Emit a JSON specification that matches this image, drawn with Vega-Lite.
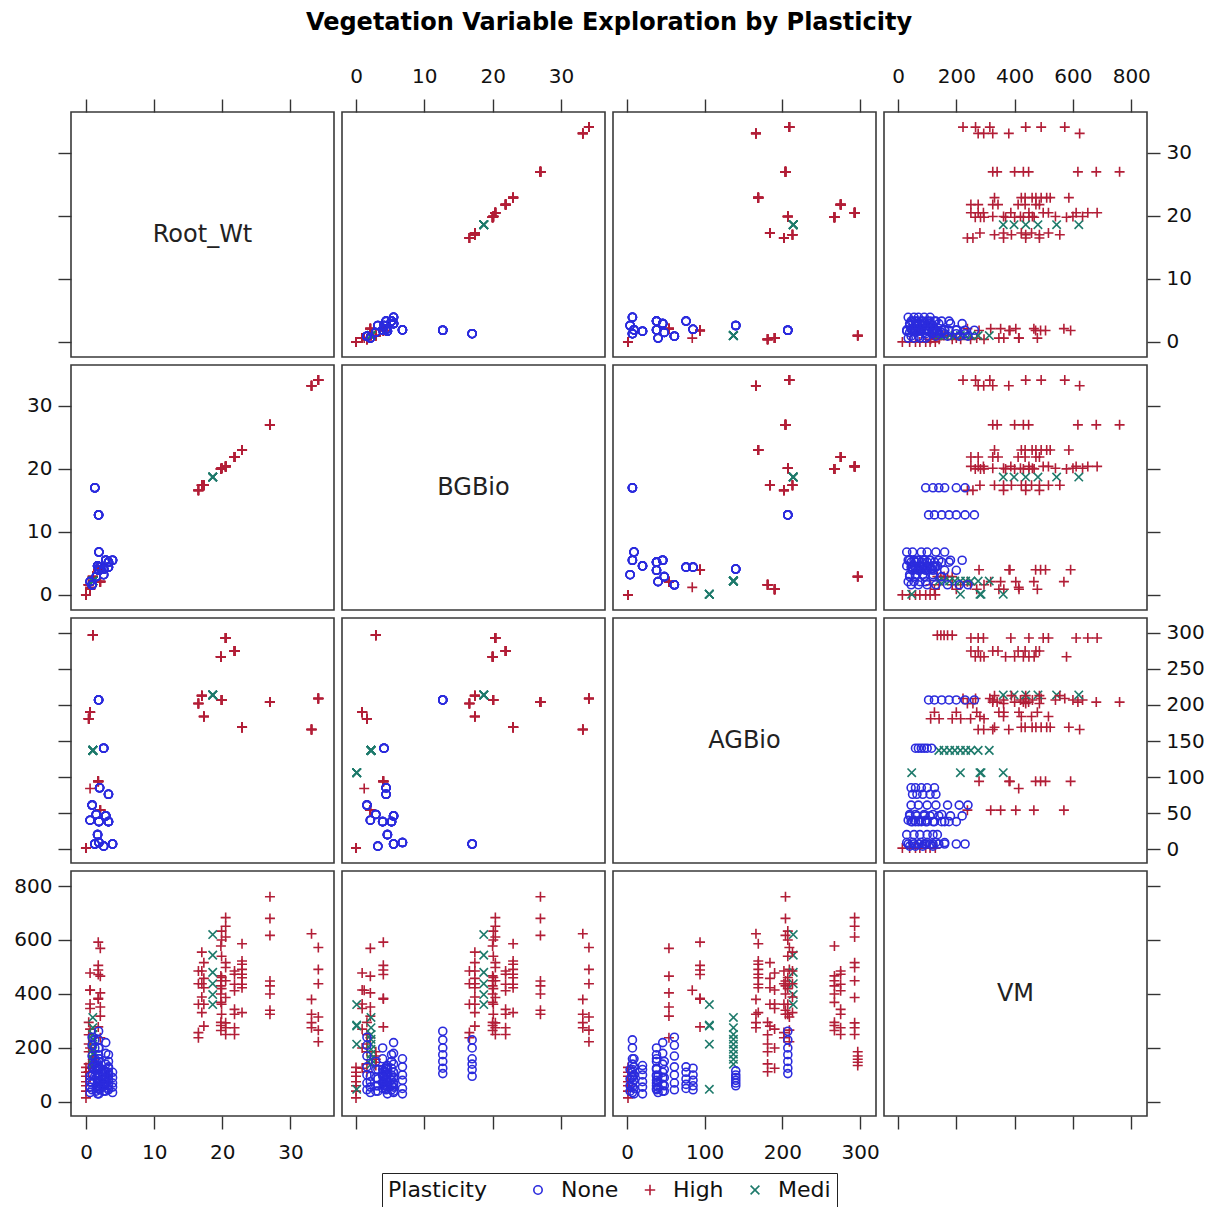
{
"$schema": "https://vega.github.io/schema/vega-lite/v6.json",
"padding": {"left": 13, "top": 11, "right": 10, "bottom": 2},
"title": {"text": "Vegetation Variable Exploration by Plasticity", "anchor": "middle", "font": "DejaVu Sans", "fontSize": 24, "fontWeight": "bold", "color": "#000", "offset": 30},
"config": {
  "view": {"stroke": "#3a3a3a", "strokeWidth": 1.6},
  "axis": {"domain": false, "grid": false, "tickSize": 13, "tickColor": "#333", "tickWidth": 1.4, "labelFont": "DejaVu Sans", "labelFontSize": 20, "labelColor": "#111", "labelFlush": false, "labelOverlap": false, "title": null},
  "axisX": {"labelPadding": 13},
  "axisY": {"labelPadding": 6},
  "range": {"category": ["#2B2BDD", "#B21E37", "#1E7A6B"], "symbol": ["circle", "M-1.25,0L1.25,0M0,-1.25L0,1.25", "M-1.05,-1.05L1.05,1.05M-1.05,1.05L1.05,-1.05"]},
  "legend": {"orient": "bottom", "direction": "horizontal", "titleOrient": "left", "layout": {"bottom": {"anchor": "middle"}}, "strokeColor": "#222", "padding": 6, "titleFont": "DejaVu Sans", "titleFontSize": 22, "titleFontWeight": "normal", "titleColor": "#111", "labelFont": "DejaVu Sans", "labelFontSize": 22, "labelColor": "#111", "symbolSize": 70, "symbolStrokeWidth": 1.6, "columnPadding": 20, "labelOffset": 12, "titlePadding": 40, "offset": 10}
},
"data": {"values": [
{"Root_Wt":34.1,"BGBio":34.1,"AGBio":209,"VM":572,"Plasticity":"High"},
{"Root_Wt":34.1,"BGBio":34.1,"AGBio":209,"VM":491,"Plasticity":"High"},
{"Root_Wt":34.1,"BGBio":34.1,"AGBio":209,"VM":438,"Plasticity":"High"},
{"Root_Wt":34.1,"BGBio":34.1,"AGBio":209,"VM":315,"Plasticity":"High"},
{"Root_Wt":34.1,"BGBio":34.1,"AGBio":209,"VM":266,"Plasticity":"High"},
{"Root_Wt":34.1,"BGBio":34.1,"AGBio":209,"VM":223,"Plasticity":"High"},
{"Root_Wt":33.1,"BGBio":33.2,"AGBio":166,"VM":623,"Plasticity":"High"},
{"Root_Wt":33.1,"BGBio":33.2,"AGBio":166,"VM":380,"Plasticity":"High"},
{"Root_Wt":33.1,"BGBio":33.2,"AGBio":166,"VM":325,"Plasticity":"High"},
{"Root_Wt":33.1,"BGBio":33.2,"AGBio":166,"VM":294,"Plasticity":"High"},
{"Root_Wt":33.1,"BGBio":33.2,"AGBio":166,"VM":275,"Plasticity":"High"},
{"Root_Wt":27.0,"BGBio":27.0,"AGBio":204,"VM":760,"Plasticity":"High"},
{"Root_Wt":27.0,"BGBio":27.0,"AGBio":204,"VM":680,"Plasticity":"High"},
{"Root_Wt":27.0,"BGBio":27.0,"AGBio":204,"VM":617,"Plasticity":"High"},
{"Root_Wt":27.0,"BGBio":27.0,"AGBio":204,"VM":448,"Plasticity":"High"},
{"Root_Wt":27.0,"BGBio":27.0,"AGBio":204,"VM":430,"Plasticity":"High"},
{"Root_Wt":27.0,"BGBio":27.0,"AGBio":204,"VM":400,"Plasticity":"High"},
{"Root_Wt":27.0,"BGBio":27.0,"AGBio":204,"VM":340,"Plasticity":"High"},
{"Root_Wt":27.0,"BGBio":27.0,"AGBio":204,"VM":325,"Plasticity":"High"},
{"Root_Wt":22.9,"BGBio":23.0,"AGBio":169,"VM":586,"Plasticity":"High"},
{"Root_Wt":22.9,"BGBio":23.0,"AGBio":169,"VM":522,"Plasticity":"High"},
{"Root_Wt":22.9,"BGBio":23.0,"AGBio":169,"VM":510,"Plasticity":"High"},
{"Root_Wt":22.9,"BGBio":23.0,"AGBio":169,"VM":491,"Plasticity":"High"},
{"Root_Wt":22.9,"BGBio":23.0,"AGBio":169,"VM":473,"Plasticity":"High"},
{"Root_Wt":22.9,"BGBio":23.0,"AGBio":169,"VM":460,"Plasticity":"High"},
{"Root_Wt":22.9,"BGBio":23.0,"AGBio":169,"VM":436,"Plasticity":"High"},
{"Root_Wt":22.9,"BGBio":23.0,"AGBio":169,"VM":423,"Plasticity":"High"},
{"Root_Wt":22.9,"BGBio":23.0,"AGBio":169,"VM":331,"Plasticity":"High"},
{"Root_Wt":21.8,"BGBio":21.9,"AGBio":275,"VM":485,"Plasticity":"High"},
{"Root_Wt":21.8,"BGBio":21.9,"AGBio":275,"VM":473,"Plasticity":"High"},
{"Root_Wt":21.8,"BGBio":21.9,"AGBio":275,"VM":436,"Plasticity":"High"},
{"Root_Wt":21.8,"BGBio":21.9,"AGBio":275,"VM":412,"Plasticity":"High"},
{"Root_Wt":21.8,"BGBio":21.9,"AGBio":275,"VM":343,"Plasticity":"High"},
{"Root_Wt":21.8,"BGBio":21.9,"AGBio":275,"VM":325,"Plasticity":"High"},
{"Root_Wt":21.8,"BGBio":21.9,"AGBio":275,"VM":275,"Plasticity":"High"},
{"Root_Wt":21.8,"BGBio":21.9,"AGBio":275,"VM":250,"Plasticity":"High"},
{"Root_Wt":20.5,"BGBio":20.4,"AGBio":293,"VM":683,"Plasticity":"High"},
{"Root_Wt":20.5,"BGBio":20.4,"AGBio":293,"VM":651,"Plasticity":"High"},
{"Root_Wt":20.5,"BGBio":20.4,"AGBio":293,"VM":611,"Plasticity":"High"},
{"Root_Wt":20.5,"BGBio":20.4,"AGBio":293,"VM":516,"Plasticity":"High"},
{"Root_Wt":20.5,"BGBio":20.4,"AGBio":293,"VM":498,"Plasticity":"High"},
{"Root_Wt":20.5,"BGBio":20.4,"AGBio":293,"VM":449,"Plasticity":"High"},
{"Root_Wt":20.5,"BGBio":20.4,"AGBio":293,"VM":387,"Plasticity":"High"},
{"Root_Wt":20.5,"BGBio":20.4,"AGBio":293,"VM":293,"Plasticity":"High"},
{"Root_Wt":20.5,"BGBio":20.4,"AGBio":293,"VM":275,"Plasticity":"High"},
{"Root_Wt":20.5,"BGBio":20.4,"AGBio":293,"VM":250,"Plasticity":"High"},
{"Root_Wt":19.8,"BGBio":20.0,"AGBio":267,"VM":578,"Plasticity":"High"},
{"Root_Wt":19.8,"BGBio":20.0,"AGBio":267,"VM":467,"Plasticity":"High"},
{"Root_Wt":19.8,"BGBio":20.0,"AGBio":267,"VM":449,"Plasticity":"High"},
{"Root_Wt":19.8,"BGBio":20.0,"AGBio":267,"VM":430,"Plasticity":"High"},
{"Root_Wt":19.8,"BGBio":20.0,"AGBio":267,"VM":400,"Plasticity":"High"},
{"Root_Wt":19.8,"BGBio":20.0,"AGBio":267,"VM":369,"Plasticity":"High"},
{"Root_Wt":19.8,"BGBio":20.0,"AGBio":267,"VM":295,"Plasticity":"High"},
{"Root_Wt":19.8,"BGBio":20.0,"AGBio":267,"VM":283,"Plasticity":"High"},
{"Root_Wt":19.8,"BGBio":20.0,"AGBio":267,"VM":265,"Plasticity":"High"},
{"Root_Wt":19.9,"BGBio":20.1,"AGBio":207,"VM":633,"Plasticity":"High"},
{"Root_Wt":19.9,"BGBio":20.1,"AGBio":207,"VM":600,"Plasticity":"High"},
{"Root_Wt":19.9,"BGBio":20.1,"AGBio":207,"VM":540,"Plasticity":"High"},
{"Root_Wt":19.9,"BGBio":20.1,"AGBio":207,"VM":461,"Plasticity":"High"},
{"Root_Wt":19.9,"BGBio":20.1,"AGBio":207,"VM":420,"Plasticity":"High"},
{"Root_Wt":19.9,"BGBio":20.1,"AGBio":207,"VM":362,"Plasticity":"High"},
{"Root_Wt":19.9,"BGBio":20.1,"AGBio":207,"VM":325,"Plasticity":"High"},
{"Root_Wt":18.6,"BGBio":18.7,"AGBio":214,"VM":361,"Plasticity":"Medi"},
{"Root_Wt":18.6,"BGBio":18.7,"AGBio":214,"VM":398,"Plasticity":"Medi"},
{"Root_Wt":18.6,"BGBio":18.7,"AGBio":214,"VM":438,"Plasticity":"Medi"},
{"Root_Wt":18.6,"BGBio":18.7,"AGBio":214,"VM":480,"Plasticity":"Medi"},
{"Root_Wt":18.6,"BGBio":18.7,"AGBio":214,"VM":544,"Plasticity":"Medi"},
{"Root_Wt":18.6,"BGBio":18.7,"AGBio":214,"VM":620,"Plasticity":"Medi"},
{"Root_Wt":17.0,"BGBio":17.4,"AGBio":213,"VM":555,"Plasticity":"High"},
{"Root_Wt":17.0,"BGBio":17.4,"AGBio":213,"VM":485,"Plasticity":"High"},
{"Root_Wt":17.0,"BGBio":17.4,"AGBio":213,"VM":438,"Plasticity":"High"},
{"Root_Wt":17.0,"BGBio":17.4,"AGBio":213,"VM":389,"Plasticity":"High"},
{"Root_Wt":17.0,"BGBio":17.4,"AGBio":213,"VM":331,"Plasticity":"High"},
{"Root_Wt":17.3,"BGBio":17.4,"AGBio":184,"VM":516,"Plasticity":"High"},
{"Root_Wt":17.3,"BGBio":17.4,"AGBio":184,"VM":458,"Plasticity":"High"},
{"Root_Wt":17.3,"BGBio":17.4,"AGBio":184,"VM":423,"Plasticity":"High"},
{"Root_Wt":17.3,"BGBio":17.4,"AGBio":184,"VM":362,"Plasticity":"High"},
{"Root_Wt":17.3,"BGBio":17.4,"AGBio":184,"VM":281,"Plasticity":"High"},
{"Root_Wt":16.5,"BGBio":16.6,"AGBio":202,"VM":485,"Plasticity":"High"},
{"Root_Wt":16.5,"BGBio":16.6,"AGBio":202,"VM":438,"Plasticity":"High"},
{"Root_Wt":16.5,"BGBio":16.6,"AGBio":202,"VM":362,"Plasticity":"High"},
{"Root_Wt":16.5,"BGBio":16.6,"AGBio":202,"VM":257,"Plasticity":"High"},
{"Root_Wt":16.5,"BGBio":16.6,"AGBio":202,"VM":238,"Plasticity":"High"},
{"Root_Wt":0.0,"BGBio":0.0,"AGBio":1.3,"VM":15,"Plasticity":"High"},
{"Root_Wt":0.0,"BGBio":0.0,"AGBio":1.3,"VM":40,"Plasticity":"High"},
{"Root_Wt":0.0,"BGBio":0.0,"AGBio":1.3,"VM":60,"Plasticity":"High"},
{"Root_Wt":0.0,"BGBio":0.0,"AGBio":1.3,"VM":75,"Plasticity":"High"},
{"Root_Wt":0.0,"BGBio":0.0,"AGBio":1.3,"VM":95,"Plasticity":"High"},
{"Root_Wt":0.0,"BGBio":0.0,"AGBio":1.3,"VM":110,"Plasticity":"High"},
{"Root_Wt":0.0,"BGBio":0.0,"AGBio":1.3,"VM":128,"Plasticity":"High"},
{"Root_Wt":2.1,"BGBio":2.1,"AGBio":54,"VM":238,"Plasticity":"High"},
{"Root_Wt":2.1,"BGBio":2.1,"AGBio":54,"VM":318,"Plasticity":"High"},
{"Root_Wt":2.1,"BGBio":2.1,"AGBio":54,"VM":352,"Plasticity":"High"},
{"Root_Wt":2.1,"BGBio":2.1,"AGBio":54,"VM":404,"Plasticity":"High"},
{"Root_Wt":2.1,"BGBio":2.1,"AGBio":54,"VM":466,"Plasticity":"High"},
{"Root_Wt":2.1,"BGBio":2.1,"AGBio":54,"VM":569,"Plasticity":"High"},
{"Root_Wt":0.6,"BGBio":1.2,"AGBio":84,"VM":414,"Plasticity":"High"},
{"Root_Wt":1.8,"BGBio":4.0,"AGBio":94,"VM":278,"Plasticity":"High"},
{"Root_Wt":1.8,"BGBio":4.0,"AGBio":94,"VM":381,"Plasticity":"High"},
{"Root_Wt":1.8,"BGBio":4.0,"AGBio":94,"VM":384,"Plasticity":"High"},
{"Root_Wt":1.8,"BGBio":4.0,"AGBio":94,"VM":472,"Plasticity":"High"},
{"Root_Wt":1.8,"BGBio":4.0,"AGBio":94,"VM":489,"Plasticity":"High"},
{"Root_Wt":1.8,"BGBio":4.0,"AGBio":94,"VM":506,"Plasticity":"High"},
{"Root_Wt":1.8,"BGBio":4.0,"AGBio":94,"VM":592,"Plasticity":"High"},
{"Root_Wt":0.4,"BGBio":1.6,"AGBio":181,"VM":112,"Plasticity":"High"},
{"Root_Wt":0.4,"BGBio":1.6,"AGBio":181,"VM":141,"Plasticity":"High"},
{"Root_Wt":0.4,"BGBio":1.6,"AGBio":181,"VM":186,"Plasticity":"High"},
{"Root_Wt":0.4,"BGBio":1.6,"AGBio":181,"VM":215,"Plasticity":"High"},
{"Root_Wt":0.4,"BGBio":1.6,"AGBio":181,"VM":249,"Plasticity":"High"},
{"Root_Wt":0.4,"BGBio":1.6,"AGBio":181,"VM":295,"Plasticity":"High"},
{"Root_Wt":0.6,"BGBio":0.9,"AGBio":190,"VM":125,"Plasticity":"High"},
{"Root_Wt":0.6,"BGBio":0.9,"AGBio":190,"VM":200,"Plasticity":"High"},
{"Root_Wt":0.6,"BGBio":0.9,"AGBio":190,"VM":270,"Plasticity":"High"},
{"Root_Wt":0.6,"BGBio":0.9,"AGBio":190,"VM":346,"Plasticity":"High"},
{"Root_Wt":0.6,"BGBio":0.9,"AGBio":190,"VM":363,"Plasticity":"High"},
{"Root_Wt":0.6,"BGBio":0.9,"AGBio":190,"VM":415,"Plasticity":"High"},
{"Root_Wt":0.6,"BGBio":0.9,"AGBio":190,"VM":478,"Plasticity":"High"},
{"Root_Wt":1.0,"BGBio":2.9,"AGBio":297,"VM":135,"Plasticity":"High"},
{"Root_Wt":1.0,"BGBio":2.9,"AGBio":297,"VM":147,"Plasticity":"High"},
{"Root_Wt":1.0,"BGBio":2.9,"AGBio":297,"VM":158,"Plasticity":"High"},
{"Root_Wt":1.0,"BGBio":2.9,"AGBio":297,"VM":170,"Plasticity":"High"},
{"Root_Wt":1.0,"BGBio":2.9,"AGBio":297,"VM":186,"Plasticity":"High"},
{"Root_Wt":1.0,"BGBio":2.2,"AGBio":137,"VM":140,"Plasticity":"Medi"},
{"Root_Wt":1.0,"BGBio":2.2,"AGBio":137,"VM":158,"Plasticity":"Medi"},
{"Root_Wt":1.0,"BGBio":2.2,"AGBio":137,"VM":177,"Plasticity":"Medi"},
{"Root_Wt":1.0,"BGBio":2.2,"AGBio":137,"VM":195,"Plasticity":"Medi"},
{"Root_Wt":1.0,"BGBio":2.2,"AGBio":137,"VM":214,"Plasticity":"Medi"},
{"Root_Wt":1.0,"BGBio":2.2,"AGBio":137,"VM":232,"Plasticity":"Medi"},
{"Root_Wt":1.0,"BGBio":2.2,"AGBio":137,"VM":250,"Plasticity":"Medi"},
{"Root_Wt":1.0,"BGBio":2.2,"AGBio":137,"VM":275,"Plasticity":"Medi"},
{"Root_Wt":1.0,"BGBio":2.2,"AGBio":137,"VM":313,"Plasticity":"Medi"},
{"Root_Wt":null,"BGBio":0.1,"AGBio":106,"VM":47,"Plasticity":"Medi"},
{"Root_Wt":null,"BGBio":0.1,"AGBio":106,"VM":214,"Plasticity":"Medi"},
{"Root_Wt":null,"BGBio":0.1,"AGBio":106,"VM":281,"Plasticity":"Medi"},
{"Root_Wt":null,"BGBio":0.1,"AGBio":106,"VM":285,"Plasticity":"Medi"},
{"Root_Wt":null,"BGBio":0.1,"AGBio":106,"VM":361,"Plasticity":"Medi"},
{"Root_Wt":1.3,"BGBio":17.0,"AGBio":7,"VM":95,"Plasticity":"None"},
{"Root_Wt":1.3,"BGBio":17.0,"AGBio":7,"VM":120,"Plasticity":"None"},
{"Root_Wt":1.3,"BGBio":17.0,"AGBio":7,"VM":140,"Plasticity":"None"},
{"Root_Wt":1.3,"BGBio":17.0,"AGBio":7,"VM":160,"Plasticity":"None"},
{"Root_Wt":1.3,"BGBio":17.0,"AGBio":7,"VM":200,"Plasticity":"None"},
{"Root_Wt":1.3,"BGBio":17.0,"AGBio":7,"VM":230,"Plasticity":"None"},
{"Root_Wt":1.85,"BGBio":12.7,"AGBio":207,"VM":105,"Plasticity":"None"},
{"Root_Wt":1.85,"BGBio":12.7,"AGBio":207,"VM":125,"Plasticity":"None"},
{"Root_Wt":1.85,"BGBio":12.7,"AGBio":207,"VM":150,"Plasticity":"None"},
{"Root_Wt":1.85,"BGBio":12.7,"AGBio":207,"VM":175,"Plasticity":"None"},
{"Root_Wt":1.85,"BGBio":12.7,"AGBio":207,"VM":200,"Plasticity":"None"},
{"Root_Wt":1.85,"BGBio":12.7,"AGBio":207,"VM":230,"Plasticity":"None"},
{"Root_Wt":1.85,"BGBio":12.7,"AGBio":207,"VM":262,"Plasticity":"None"},
{"Root_Wt":3.9,"BGBio":5.5,"AGBio":7,"VM":35,"Plasticity":"None"},
{"Root_Wt":3.9,"BGBio":5.5,"AGBio":7,"VM":55,"Plasticity":"None"},
{"Root_Wt":3.9,"BGBio":5.5,"AGBio":7,"VM":70,"Plasticity":"None"},
{"Root_Wt":3.9,"BGBio":5.5,"AGBio":7,"VM":90,"Plasticity":"None"},
{"Root_Wt":3.9,"BGBio":5.5,"AGBio":7,"VM":110,"Plasticity":"None"},
{"Root_Wt":1.9,"BGBio":6.8,"AGBio":9,"VM":30,"Plasticity":"None"},
{"Root_Wt":1.9,"BGBio":6.8,"AGBio":9,"VM":50,"Plasticity":"None"},
{"Root_Wt":1.9,"BGBio":6.8,"AGBio":9,"VM":80,"Plasticity":"None"},
{"Root_Wt":1.9,"BGBio":6.8,"AGBio":9,"VM":100,"Plasticity":"None"},
{"Root_Wt":1.9,"BGBio":6.8,"AGBio":9,"VM":130,"Plasticity":"None"},
{"Root_Wt":1.9,"BGBio":6.8,"AGBio":9,"VM":160,"Plasticity":"None"},
{"Root_Wt":2.6,"BGBio":3.2,"AGBio":4,"VM":40,"Plasticity":"None"},
{"Root_Wt":2.6,"BGBio":3.2,"AGBio":4,"VM":60,"Plasticity":"None"},
{"Root_Wt":2.6,"BGBio":3.2,"AGBio":4,"VM":85,"Plasticity":"None"},
{"Root_Wt":2.6,"BGBio":3.2,"AGBio":4,"VM":120,"Plasticity":"None"},
{"Root_Wt":1.7,"BGBio":4.6,"AGBio":20,"VM":30,"Plasticity":"None"},
{"Root_Wt":1.7,"BGBio":4.6,"AGBio":20,"VM":55,"Plasticity":"None"},
{"Root_Wt":1.7,"BGBio":4.6,"AGBio":20,"VM":75,"Plasticity":"None"},
{"Root_Wt":1.7,"BGBio":4.6,"AGBio":20,"VM":100,"Plasticity":"None"},
{"Root_Wt":1.7,"BGBio":4.6,"AGBio":20,"VM":120,"Plasticity":"None"},
{"Root_Wt":1.7,"BGBio":4.6,"AGBio":20,"VM":135,"Plasticity":"None"},
{"Root_Wt":3.3,"BGBio":5.2,"AGBio":38,"VM":45,"Plasticity":"None"},
{"Root_Wt":3.3,"BGBio":5.2,"AGBio":38,"VM":60,"Plasticity":"None"},
{"Root_Wt":3.3,"BGBio":5.2,"AGBio":38,"VM":80,"Plasticity":"None"},
{"Root_Wt":3.3,"BGBio":5.2,"AGBio":38,"VM":100,"Plasticity":"None"},
{"Root_Wt":3.3,"BGBio":5.2,"AGBio":38,"VM":125,"Plasticity":"None"},
{"Root_Wt":3.3,"BGBio":5.2,"AGBio":38,"VM":150,"Plasticity":"None"},
{"Root_Wt":3.3,"BGBio":5.2,"AGBio":38,"VM":175,"Plasticity":"None"},
{"Root_Wt":1.9,"BGBio":3.9,"AGBio":38,"VM":50,"Plasticity":"None"},
{"Root_Wt":1.9,"BGBio":3.9,"AGBio":38,"VM":70,"Plasticity":"None"},
{"Root_Wt":1.9,"BGBio":3.9,"AGBio":38,"VM":95,"Plasticity":"None"},
{"Root_Wt":1.9,"BGBio":3.9,"AGBio":38,"VM":120,"Plasticity":"None"},
{"Root_Wt":1.9,"BGBio":3.9,"AGBio":38,"VM":160,"Plasticity":"None"},
{"Root_Wt":1.9,"BGBio":3.9,"AGBio":38,"VM":200,"Plasticity":"None"},
{"Root_Wt":2.9,"BGBio":5.5,"AGBio":46,"VM":40,"Plasticity":"None"},
{"Root_Wt":2.9,"BGBio":5.5,"AGBio":46,"VM":65,"Plasticity":"None"},
{"Root_Wt":2.9,"BGBio":5.5,"AGBio":46,"VM":90,"Plasticity":"None"},
{"Root_Wt":2.9,"BGBio":5.5,"AGBio":46,"VM":110,"Plasticity":"None"},
{"Root_Wt":2.9,"BGBio":5.5,"AGBio":46,"VM":140,"Plasticity":"None"},
{"Root_Wt":2.9,"BGBio":5.5,"AGBio":46,"VM":180,"Plasticity":"None"},
{"Root_Wt":2.9,"BGBio":5.5,"AGBio":46,"VM":220,"Plasticity":"None"},
{"Root_Wt":0.6,"BGBio":2.1,"AGBio":40,"VM":35,"Plasticity":"None"},
{"Root_Wt":0.6,"BGBio":2.1,"AGBio":40,"VM":55,"Plasticity":"None"},
{"Root_Wt":0.6,"BGBio":2.1,"AGBio":40,"VM":75,"Plasticity":"None"},
{"Root_Wt":0.6,"BGBio":2.1,"AGBio":40,"VM":95,"Plasticity":"None"},
{"Root_Wt":0.9,"BGBio":1.6,"AGBio":61,"VM":45,"Plasticity":"None"},
{"Root_Wt":0.9,"BGBio":1.6,"AGBio":61,"VM":70,"Plasticity":"None"},
{"Root_Wt":0.9,"BGBio":1.6,"AGBio":61,"VM":100,"Plasticity":"None"},
{"Root_Wt":0.9,"BGBio":1.6,"AGBio":61,"VM":130,"Plasticity":"None"},
{"Root_Wt":0.9,"BGBio":1.6,"AGBio":61,"VM":170,"Plasticity":"None"},
{"Root_Wt":0.9,"BGBio":1.6,"AGBio":61,"VM":210,"Plasticity":"None"},
{"Root_Wt":0.9,"BGBio":1.6,"AGBio":61,"VM":240,"Plasticity":"None"},
{"Root_Wt":3.3,"BGBio":4.4,"AGBio":76,"VM":50,"Plasticity":"None"},
{"Root_Wt":3.3,"BGBio":4.4,"AGBio":76,"VM":65,"Plasticity":"None"},
{"Root_Wt":3.3,"BGBio":4.4,"AGBio":76,"VM":85,"Plasticity":"None"},
{"Root_Wt":3.3,"BGBio":4.4,"AGBio":76,"VM":110,"Plasticity":"None"},
{"Root_Wt":3.3,"BGBio":4.4,"AGBio":76,"VM":130,"Plasticity":"None"},
{"Root_Wt":2.0,"BGBio":4.4,"AGBio":85,"VM":45,"Plasticity":"None"},
{"Root_Wt":2.0,"BGBio":4.4,"AGBio":85,"VM":60,"Plasticity":"None"},
{"Root_Wt":2.0,"BGBio":4.4,"AGBio":85,"VM":80,"Plasticity":"None"},
{"Root_Wt":2.0,"BGBio":4.4,"AGBio":85,"VM":100,"Plasticity":"None"},
{"Root_Wt":2.0,"BGBio":4.4,"AGBio":85,"VM":125,"Plasticity":"None"},
{"Root_Wt":2.6,"BGBio":4.1,"AGBio":140,"VM":60,"Plasticity":"None"},
{"Root_Wt":2.6,"BGBio":4.1,"AGBio":140,"VM":70,"Plasticity":"None"},
{"Root_Wt":2.6,"BGBio":4.1,"AGBio":140,"VM":80,"Plasticity":"None"},
{"Root_Wt":2.6,"BGBio":4.1,"AGBio":140,"VM":90,"Plasticity":"None"},
{"Root_Wt":2.6,"BGBio":4.1,"AGBio":140,"VM":100,"Plasticity":"None"},
{"Root_Wt":2.6,"BGBio":4.1,"AGBio":140,"VM":115,"Plasticity":"None"},
{"Root_Wt":1.5,"BGBio":2.9,"AGBio":48,"VM":40,"Plasticity":"None"},
{"Root_Wt":1.5,"BGBio":2.9,"AGBio":48,"VM":60,"Plasticity":"None"},
{"Root_Wt":1.5,"BGBio":2.9,"AGBio":48,"VM":90,"Plasticity":"None"},
{"Root_Wt":1.5,"BGBio":2.9,"AGBio":48,"VM":120,"Plasticity":"None"},
{"Root_Wt":1.5,"BGBio":2.9,"AGBio":48,"VM":150,"Plasticity":"None"}
]},
"spacing": 6,
"resolve": {"scale": {"x": "independent", "y": "independent"}},
"vconcat": [
{"spacing": 8, "bounds": "flush", "resolve": {"scale": {"x": "independent", "y": "independent"}}, "hconcat": [
 {"width": 263, "height": 245, "data": {"values": [{"label": "Root_Wt"}]}, "mark": {"type": "text", "font": "DejaVu Sans", "fontSize": 24, "color": "#222"},
  "encoding": {"x": {"datum": 17.1, "type": "quantitative", "scale": {"domain": [-2.2, 36.4], "nice": false, "zero": false}, "axis": {"orient": "top", "values": [0,10,20,30], "labels": false}},
   "y": {"datum": 17.05, "type": "quantitative", "scale": {"domain": [-2.4, 36.5], "nice": false, "zero": false}, "axis": {"orient": "left", "values": [0,10,20,30], "labels": false}},
   "text": {"field": "label"}}},
 {"width": 263, "height": 245, "mark": {"type": "point", "filled": false, "size": 64, "strokeWidth": 1.6, "opacity": 1},
  "encoding": {"x": {"field": "BGBio", "type": "quantitative", "scale": {"domain": [-2.05, 36.45], "nice": false, "zero": false}, "axis": {"orient": "top", "values": [0,10,20,30]}},
   "y": {"field": "Root_Wt", "type": "quantitative", "scale": {"domain": [-2.4, 36.5], "nice": false, "zero": false}, "axis": null},
   "color": {"field": "Plasticity", "type": "nominal", "scale": {"domain": ["None","High","Medi"]}, "title": "Plasticity"},
   "shape": {"field": "Plasticity", "type": "nominal", "scale": {"domain": ["None","High","Medi"]}, "title": "Plasticity"}}},
 {"width": 263, "height": 245, "mark": {"type": "point", "filled": false, "size": 64, "strokeWidth": 1.6, "opacity": 1},
  "encoding": {"x": {"field": "AGBio", "type": "quantitative", "scale": {"domain": [-18, 320.5], "nice": false, "zero": false}, "axis": {"orient": "top", "values": [0,100,200,300], "labels": false}},
   "y": {"field": "Root_Wt", "type": "quantitative", "scale": {"domain": [-2.4, 36.5], "nice": false, "zero": false}, "axis": null},
   "color": {"field": "Plasticity", "type": "nominal", "scale": {"domain": ["None","High","Medi"]}, "title": "Plasticity"},
   "shape": {"field": "Plasticity", "type": "nominal", "scale": {"domain": ["None","High","Medi"]}, "title": "Plasticity"}}},
 {"width": 263, "height": 245, "mark": {"type": "point", "filled": false, "size": 64, "strokeWidth": 1.6, "opacity": 1},
  "encoding": {"x": {"field": "VM", "type": "quantitative", "scale": {"domain": [-48, 854], "nice": false, "zero": false}, "axis": {"orient": "top", "values": [0,200,400,600,800]}},
   "y": {"field": "Root_Wt", "type": "quantitative", "scale": {"domain": [-2.4, 36.5], "nice": false, "zero": false}, "axis": {"orient": "right", "values": [0,10,20,30]}},
   "color": {"field": "Plasticity", "type": "nominal", "scale": {"domain": ["None","High","Medi"]}, "title": "Plasticity"},
   "shape": {"field": "Plasticity", "type": "nominal", "scale": {"domain": ["None","High","Medi"]}, "title": "Plasticity"}}}
]},
{"spacing": 8, "bounds": "flush", "resolve": {"scale": {"x": "independent", "y": "independent"}}, "hconcat": [
 {"width": 263, "height": 245, "mark": {"type": "point", "filled": false, "size": 64, "strokeWidth": 1.6, "opacity": 1},
  "encoding": {"x": {"field": "Root_Wt", "type": "quantitative", "scale": {"domain": [-2.2, 36.4], "nice": false, "zero": false}, "axis": null},
   "y": {"field": "BGBio", "type": "quantitative", "scale": {"domain": [-2.4, 36.5], "nice": false, "zero": false}, "axis": {"orient": "left", "values": [0,10,20,30]}},
   "color": {"field": "Plasticity", "type": "nominal", "scale": {"domain": ["None","High","Medi"]}, "title": "Plasticity"},
   "shape": {"field": "Plasticity", "type": "nominal", "scale": {"domain": ["None","High","Medi"]}, "title": "Plasticity"}}},
 {"width": 263, "height": 245, "data": {"values": [{"label": "BGBio"}]}, "mark": {"type": "text", "font": "DejaVu Sans", "fontSize": 24, "color": "#222"},
  "encoding": {"x": {"datum": 17.2, "type": "quantitative", "scale": {"domain": [-2.05, 36.45], "nice": false, "zero": false}, "axis": null},
   "y": {"datum": 17.05, "type": "quantitative", "scale": {"domain": [-2.4, 36.5], "nice": false, "zero": false}, "axis": null},
   "text": {"field": "label"}}},
 {"width": 263, "height": 245, "mark": {"type": "point", "filled": false, "size": 64, "strokeWidth": 1.6, "opacity": 1},
  "encoding": {"x": {"field": "AGBio", "type": "quantitative", "scale": {"domain": [-18, 320.5], "nice": false, "zero": false}, "axis": null},
   "y": {"field": "BGBio", "type": "quantitative", "scale": {"domain": [-2.4, 36.5], "nice": false, "zero": false}, "axis": null},
   "color": {"field": "Plasticity", "type": "nominal", "scale": {"domain": ["None","High","Medi"]}, "title": "Plasticity"},
   "shape": {"field": "Plasticity", "type": "nominal", "scale": {"domain": ["None","High","Medi"]}, "title": "Plasticity"}}},
 {"width": 263, "height": 245, "mark": {"type": "point", "filled": false, "size": 64, "strokeWidth": 1.6, "opacity": 1},
  "encoding": {"x": {"field": "VM", "type": "quantitative", "scale": {"domain": [-48, 854], "nice": false, "zero": false}, "axis": null},
   "y": {"field": "BGBio", "type": "quantitative", "scale": {"domain": [-2.4, 36.5], "nice": false, "zero": false}, "axis": {"orient": "right", "values": [0,10,20,30], "labels": false}},
   "color": {"field": "Plasticity", "type": "nominal", "scale": {"domain": ["None","High","Medi"]}, "title": "Plasticity"},
   "shape": {"field": "Plasticity", "type": "nominal", "scale": {"domain": ["None","High","Medi"]}, "title": "Plasticity"}}}
]},
{"spacing": 8, "bounds": "flush", "resolve": {"scale": {"x": "independent", "y": "independent"}}, "hconcat": [
 {"width": 263, "height": 245, "mark": {"type": "point", "filled": false, "size": 64, "strokeWidth": 1.6, "opacity": 1},
  "encoding": {"x": {"field": "Root_Wt", "type": "quantitative", "scale": {"domain": [-2.2, 36.4], "nice": false, "zero": false}, "axis": null},
   "y": {"field": "AGBio", "type": "quantitative", "scale": {"domain": [-19.4, 320.8], "nice": false, "zero": false}, "axis": {"orient": "left", "values": [0,50,100,150,200,250,300], "labels": false}},
   "color": {"field": "Plasticity", "type": "nominal", "scale": {"domain": ["None","High","Medi"]}, "title": "Plasticity"},
   "shape": {"field": "Plasticity", "type": "nominal", "scale": {"domain": ["None","High","Medi"]}, "title": "Plasticity"}}},
 {"width": 263, "height": 245, "mark": {"type": "point", "filled": false, "size": 64, "strokeWidth": 1.6, "opacity": 1},
  "encoding": {"x": {"field": "BGBio", "type": "quantitative", "scale": {"domain": [-2.05, 36.45], "nice": false, "zero": false}, "axis": null},
   "y": {"field": "AGBio", "type": "quantitative", "scale": {"domain": [-19.4, 320.8], "nice": false, "zero": false}, "axis": null},
   "color": {"field": "Plasticity", "type": "nominal", "scale": {"domain": ["None","High","Medi"]}, "title": "Plasticity"},
   "shape": {"field": "Plasticity", "type": "nominal", "scale": {"domain": ["None","High","Medi"]}, "title": "Plasticity"}}},
 {"width": 263, "height": 245, "data": {"values": [{"label": "AGBio"}]}, "mark": {"type": "text", "font": "DejaVu Sans", "fontSize": 24, "color": "#222"},
  "encoding": {"x": {"datum": 151.25, "type": "quantitative", "scale": {"domain": [-18, 320.5], "nice": false, "zero": false}, "axis": null},
   "y": {"datum": 150.7, "type": "quantitative", "scale": {"domain": [-19.4, 320.8], "nice": false, "zero": false}, "axis": null},
   "text": {"field": "label"}}},
 {"width": 263, "height": 245, "mark": {"type": "point", "filled": false, "size": 64, "strokeWidth": 1.6, "opacity": 1},
  "encoding": {"x": {"field": "VM", "type": "quantitative", "scale": {"domain": [-48, 854], "nice": false, "zero": false}, "axis": null},
   "y": {"field": "AGBio", "type": "quantitative", "scale": {"domain": [-19.4, 320.8], "nice": false, "zero": false}, "axis": {"orient": "right", "values": [0,50,100,150,200,250,300]}},
   "color": {"field": "Plasticity", "type": "nominal", "scale": {"domain": ["None","High","Medi"]}, "title": "Plasticity"},
   "shape": {"field": "Plasticity", "type": "nominal", "scale": {"domain": ["None","High","Medi"]}, "title": "Plasticity"}}}
]},
{"spacing": 8, "bounds": "flush", "resolve": {"scale": {"x": "independent", "y": "independent"}}, "hconcat": [
 {"width": 263, "height": 245, "mark": {"type": "point", "filled": false, "size": 64, "strokeWidth": 1.6, "opacity": 1},
  "encoding": {"x": {"field": "Root_Wt", "type": "quantitative", "scale": {"domain": [-2.2, 36.4], "nice": false, "zero": false}, "axis": {"orient": "bottom", "values": [0,10,20,30]}},
   "y": {"field": "VM", "type": "quantitative", "scale": {"domain": [-52, 855.6], "nice": false, "zero": false}, "axis": {"orient": "left", "values": [0,200,400,600,800]}},
   "color": {"field": "Plasticity", "type": "nominal", "scale": {"domain": ["None","High","Medi"]}, "title": "Plasticity"},
   "shape": {"field": "Plasticity", "type": "nominal", "scale": {"domain": ["None","High","Medi"]}, "title": "Plasticity"}}},
 {"width": 263, "height": 245, "mark": {"type": "point", "filled": false, "size": 64, "strokeWidth": 1.6, "opacity": 1},
  "encoding": {"x": {"field": "BGBio", "type": "quantitative", "scale": {"domain": [-2.05, 36.45], "nice": false, "zero": false}, "axis": {"orient": "bottom", "values": [0,10,20,30], "labels": false}},
   "y": {"field": "VM", "type": "quantitative", "scale": {"domain": [-52, 855.6], "nice": false, "zero": false}, "axis": null},
   "color": {"field": "Plasticity", "type": "nominal", "scale": {"domain": ["None","High","Medi"]}, "title": "Plasticity"},
   "shape": {"field": "Plasticity", "type": "nominal", "scale": {"domain": ["None","High","Medi"]}, "title": "Plasticity"}}},
 {"width": 263, "height": 245, "mark": {"type": "point", "filled": false, "size": 64, "strokeWidth": 1.6, "opacity": 1},
  "encoding": {"x": {"field": "AGBio", "type": "quantitative", "scale": {"domain": [-18, 320.5], "nice": false, "zero": false}, "axis": {"orient": "bottom", "values": [0,100,200,300]}},
   "y": {"field": "VM", "type": "quantitative", "scale": {"domain": [-52, 855.6], "nice": false, "zero": false}, "axis": null},
   "color": {"field": "Plasticity", "type": "nominal", "scale": {"domain": ["None","High","Medi"]}, "title": "Plasticity"},
   "shape": {"field": "Plasticity", "type": "nominal", "scale": {"domain": ["None","High","Medi"]}, "title": "Plasticity"}}},
 {"width": 263, "height": 245, "data": {"values": [{"label": "VM"}]}, "mark": {"type": "text", "font": "DejaVu Sans", "fontSize": 24, "color": "#222"},
  "encoding": {"x": {"datum": 403, "type": "quantitative", "scale": {"domain": [-48, 854], "nice": false, "zero": false}, "axis": {"orient": "bottom", "values": [0,200,400,600,800], "labels": false}},
   "y": {"datum": 401.8, "type": "quantitative", "scale": {"domain": [-52, 855.6], "nice": false, "zero": false}, "axis": {"orient": "right", "values": [0,200,400,600,800], "labels": false}},
   "text": {"field": "label"}}}
]}
]
}
